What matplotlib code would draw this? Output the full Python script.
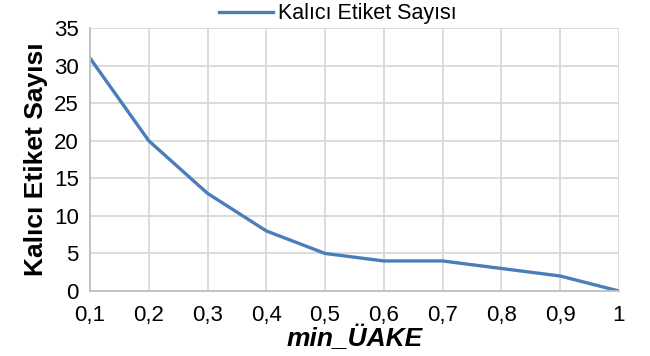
import matplotlib
matplotlib.use("Agg")
import matplotlib.pyplot as plt

plt.rcParams['font.family'] = ['Liberation Sans', 'DejaVu Sans']

# data
min_uake = ["0,1", "0,2", "0,3", "0,4", "0,5", "0,6", "0,7", "0,8", "0,9", "1"]
kalici_etiket = [31, 20, 13, 8, 5, 4, 4, 3, 2, 0]
y_ticks = [0, 5, 10, 15, 20, 25, 30, 35]

fig = plt.figure(figsize=(6.5, 3.56), dpi=100)
ax = fig.add_axes([0.1385, 0.1826, 0.8135, 0.7384])

x = list(range(len(min_uake)))
ax.plot(x, kalici_etiket, color="#4a7ebb", linewidth=2.4, label="Kalıcı Etiket Sayısı",
        solid_joinstyle="round")

ax.set_xlim(0, len(min_uake) - 1)
ax.set_ylim(0, 35)
ax.set_xticks(x)
ax.set_xticklabels(min_uake)
ax.set_yticks(y_ticks)

ax.grid(True, color="#d9d9d9", linewidth=1.3)
ax.set_axisbelow(True)
for side in ["top", "right"]:
    ax.spines[side].set_visible(False)
for side in ["left", "bottom"]:
    ax.spines[side].set_color("#bfbfbf")
    ax.spines[side].set_linewidth(1.3)
ax.tick_params(axis="both", length=0, labelsize=16, colors="black")
ax.tick_params(axis="x", pad=10)
ax.tick_params(axis="y", pad=8)

ax.set_xlabel("min_ÜAKE", fontsize=19, fontweight="bold", fontstyle="italic", labelpad=0)
ax.set_ylabel("Kalıcı Etiket Sayısı", fontsize=19, fontweight="bold", labelpad=4)

fig.legend(loc="upper center", bbox_to_anchor=(0.52, 1.045), frameon=False, fontsize=15.5,
           handlelength=2.5, handletextpad=0.25)

fig.savefig("out.png", dpi=100)
